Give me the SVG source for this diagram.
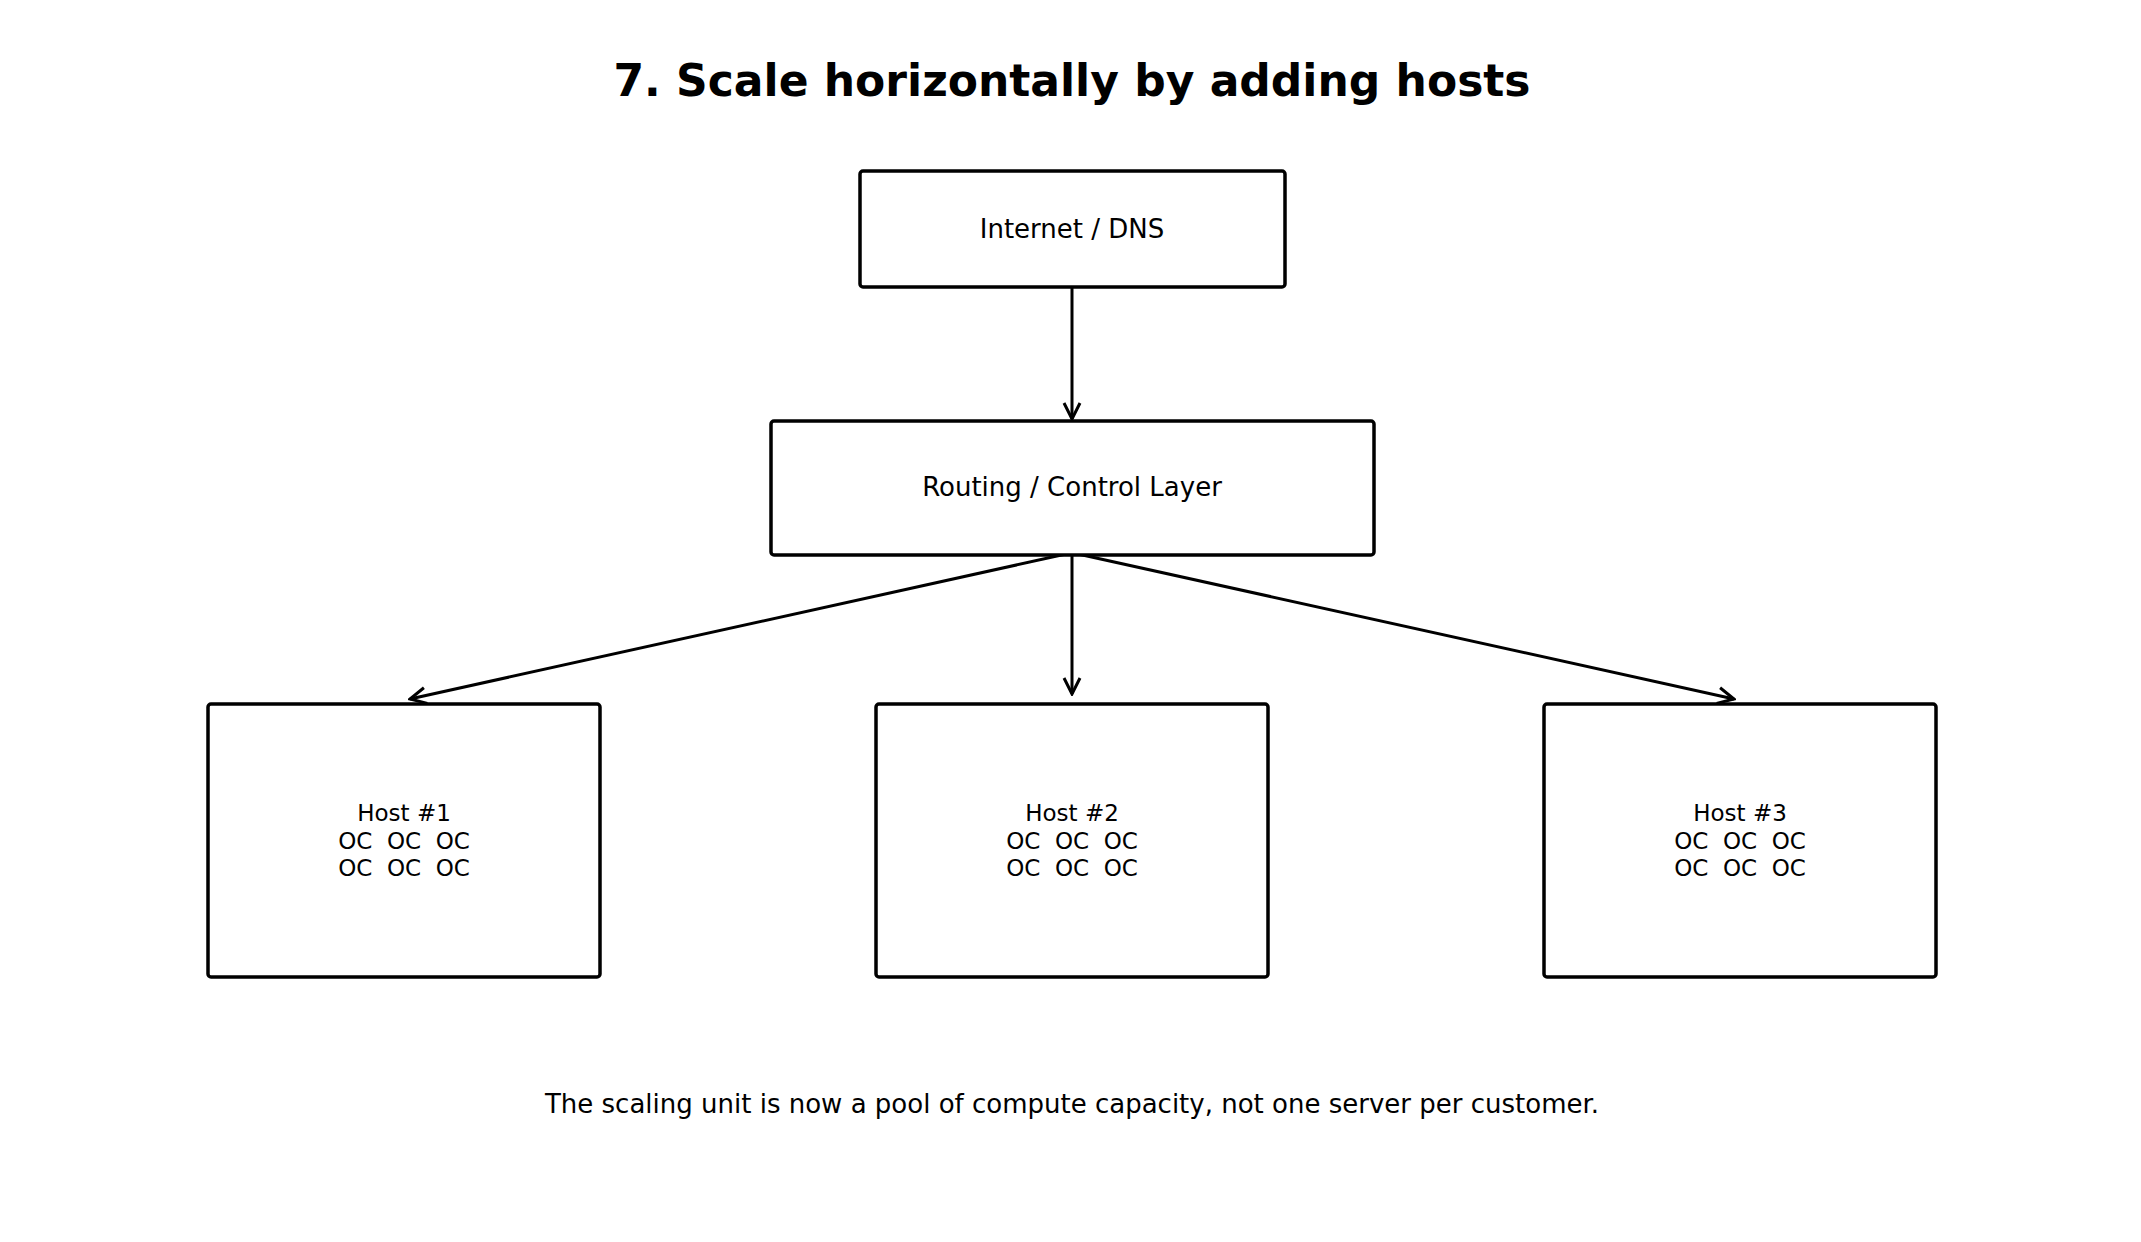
<svg xmlns="http://www.w3.org/2000/svg" width="2141" height="1242" viewBox="0 0 2141 1242">
<defs>
<style>
.box{fill:#fff;stroke:#000;stroke-width:3.5}
text{font-family:"DejaVu Sans",sans-serif;fill:#000;text-anchor:middle}
.lbl{font-size:26px}
.host{font-size:23px}
.edge{stroke:#000;stroke-width:3;fill:none;marker-end:url(#ah)}
</style>
<marker id="ah" viewBox="0 0 20 20" refX="18" refY="10" markerWidth="20" markerHeight="20" markerUnits="userSpaceOnUse" orient="auto">
<path d="M2,2 L18,10 L2,18" fill="none" stroke="#000" stroke-width="3"/>
</marker>
</defs>
<rect width="2141" height="1242" fill="#fff"/>
<text x="1072" y="96" font-size="44" font-weight="bold">7. Scale horizontally by adding hosts</text>
<g id="connectors">
<path class="edge" d="M1072,287 L1072,419"/>
<path class="edge" d="M1066,554 L410,699"/>
<path class="edge" d="M1072,555 L1072,694"/>
<path class="edge" d="M1078,554 L1734,699"/>
</g>
<g id="internet"><rect class="box" x="860" y="171" width="425" height="116" rx="3"/><text class="lbl" x="1072" y="238">Internet / DNS</text></g>
<g id="routing"><rect class="box" x="771" y="421" width="603" height="134" rx="3"/><text class="lbl" x="1072" y="496">Routing / Control Layer</text></g>
<g id="host1"><rect class="box" x="208" y="704" width="392" height="273" rx="3"/><text class="host" x="404" y="821">Host #1</text><text class="host" x="404" y="849" xml:space="preserve">OC  OC  OC</text><text class="host" x="404" y="876" xml:space="preserve">OC  OC  OC</text></g>
<g id="host2"><rect class="box" x="876" y="704" width="392" height="273" rx="3"/><text class="host" x="1072" y="821">Host #2</text><text class="host" x="1072" y="849" xml:space="preserve">OC  OC  OC</text><text class="host" x="1072" y="876" xml:space="preserve">OC  OC  OC</text></g>
<g id="host3"><rect class="box" x="1544" y="704" width="392" height="273" rx="3"/><text class="host" x="1740" y="821">Host #3</text><text class="host" x="1740" y="849" xml:space="preserve">OC  OC  OC</text><text class="host" x="1740" y="876" xml:space="preserve">OC  OC  OC</text></g>
<text x="1072" y="1113" font-size="26">The scaling unit is now a pool of compute capacity, not one server per customer.</text>
</svg>
